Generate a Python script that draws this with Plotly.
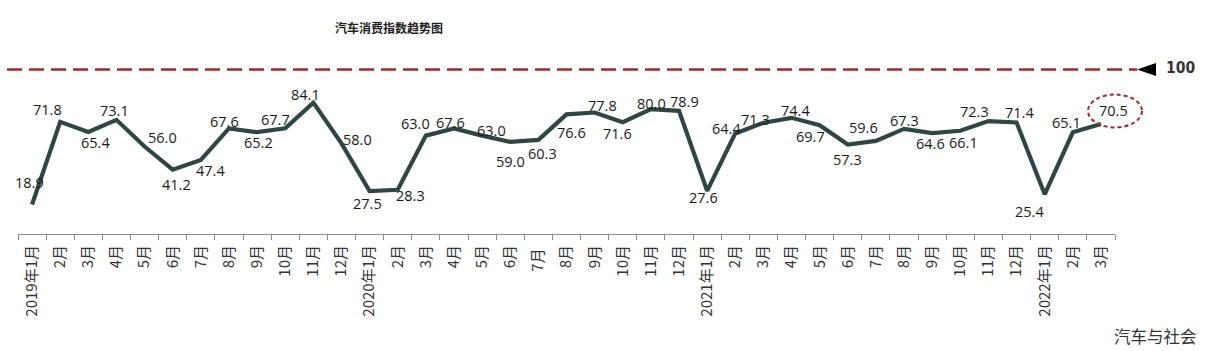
import plotly.graph_objects as go

# ---------------- data ----------------
month_keys = [f"{y}-{m:02d}" for y in (2019, 2020, 2021) for m in range(1, 13)] + ["2022-01", "2022-02", "2022-03"]
tick_labels = [
    "2019年1月", "2月", "3月", "4月", "5月", "6月", "7月", "8月", "9月", "10月", "11月", "12月",
    "2020年1月", "2月", "3月", "4月", "5月", "6月", "7月 ", "8月", "9月", "10月", "11月", "12月",
    "2021年1月", "2月", "3月", "4月", "5月", "6月", "7月", "8月", "9月", "10月", "11月", "12月",
    "2022年1月", "2月", "3月",
]
index_2019 = [18.9, 71.8, 65.4, 73.1, 56.0, 41.2, 47.4, 67.6, 65.2, 67.7, 84.1, 58.0]
index_2020 = [27.5, 28.3, 63.0, 67.6, 63.0, 59.0, 60.3, 76.6, 77.8, 71.6, 80.0, 78.9]
index_2021 = [27.6, 64.4, 71.3, 74.4, 69.7, 57.3, 59.6, 67.3, 64.6, 66.1, 72.3, 71.4]
index_2022 = [25.4, 65.1, 70.5]
values = index_2019 + index_2020 + index_2021 + index_2022
reference_value = "100"
title_text = "汽车消费指数趋势图"
source_text = "汽车与社会"

# ---------------- style: label offsets (px, dx right, dy down) ----------------
label_offsets = [
    (-3, -22), (-13, -12), (7, 10.5), (-2, -9), (17.5, -9), (3.6, 15), (9.5, 11), (-4, -7),
    (1, 10.5), (-10, -9), (-8, -8), (16, -4),
    (-2, 12.5), (13, 6), (-10, -12), (-3.5, -6), (9, -5.5), (0, 20), (4.5, 13.5), (5, 17.7),
    (8, -7), (-5, 11), (1, -6), (5, -9),
    (-4, 7), (-9, -5), (-8, -3), (4, -7), (-9, 11.5), (0, 15), (-12.5, -13), (0, -8),
    (-2, 10), (3, 12), (-14, -10), (3, -10),
    (-15, 17), (-6, -9.5), (12.5, -13),
]

LINE_COLOR = "#2E4744"
RED = "#9E2A2F"

fig = go.Figure()
fig.add_trace(go.Scatter(
    x=month_keys, y=values, mode="lines",
    line=dict(color=LINE_COLOR, width=4.2),
    hoverinfo="skip", showlegend=False,
))

for k, v, (dx, dy) in zip(month_keys, values, label_offsets):
    fig.add_annotation(
        x=k, y=v, xref="x", yref="y", text=f"{v:.1f}", showarrow=False,
        xanchor="center", yanchor="middle", xshift=dx, yshift=-dy,
        font=dict(family="Open Sans", size=14.5, color="#1a1a1a"),
    )

# reference line (decorative, near top)
fig.add_shape(type="line", xref="paper", yref="paper",
              x0=-0.0100, x1=1.0201, y0=0.810, y1=0.810,
              line=dict(color=RED, width=2.6, dash="15px,7px"))
fig.add_shape(type="path", xref="paper", yref="paper",
              path="M 1.0201 0.810 L 1.0374 0.842 L 1.0374 0.778 Z",
              fillcolor="#000000", line=dict(color="#000000", width=0))
fig.add_annotation(xref="paper", yref="paper", x=1.0593, y=0.817, text=f"<b>{reference_value}</b>",
                   showarrow=False, xanchor="center", yanchor="middle",
                   font=dict(family="DejaVu Sans Condensed", size=15.5, color="#333333"))

# highlight ellipse around latest value label (paper coords so it is not clipped)
fig.add_shape(type="circle", xref="paper", yref="paper",
              x0=0.9754, x1=1.0246, y0=0.525, y1=0.687,
              line=dict(color=RED, width=2, dash="4px,3px"))

# title
fig.add_annotation(xref="paper", yref="paper", x=0.338, y=1.017, text=f"<b>{title_text}</b>",
                   showarrow=False, xanchor="center", yanchor="middle",
                   font=dict(family="Noto Sans CJK SC", size=12, color="#222222"))
# source
fig.add_annotation(xref="paper", yref="paper", x=1.037, y=-0.503, text=source_text,
                   showarrow=False, xanchor="center", yanchor="middle",
                   font=dict(family="Noto Sans CJK SC", size=16.5, color="#333333"))

fig.update_layout(
    width=1217, height=351,
    margin=dict(l=18, r=102, t=31, b=117, autoexpand=False),
    paper_bgcolor="white", plot_bgcolor="white",
    showlegend=False,
    xaxis=dict(
        type="category", categoryorder="array", categoryarray=month_keys,
        tickmode="array", tickvals=month_keys, ticktext=tick_labels,
        tickson="boundaries", ticks="outside", ticklen=5, tickcolor="#8a8a8a", tickwidth=1,
        showline=True, linecolor="#8a8a8a", linewidth=1,
        showgrid=False, zeroline=False, ticklabelstandoff=4,
        tickangle=-90, tickfont=dict(family="Noto Sans CJK SC", size=15, color="#333333"),
        range=[-0.5, len(month_keys) - 0.5], fixedrange=True, automargin=False,
    ),
    yaxis=dict(range=[0, 130], visible=False, fixedrange=True),
)

fig.write_html("out.html")
